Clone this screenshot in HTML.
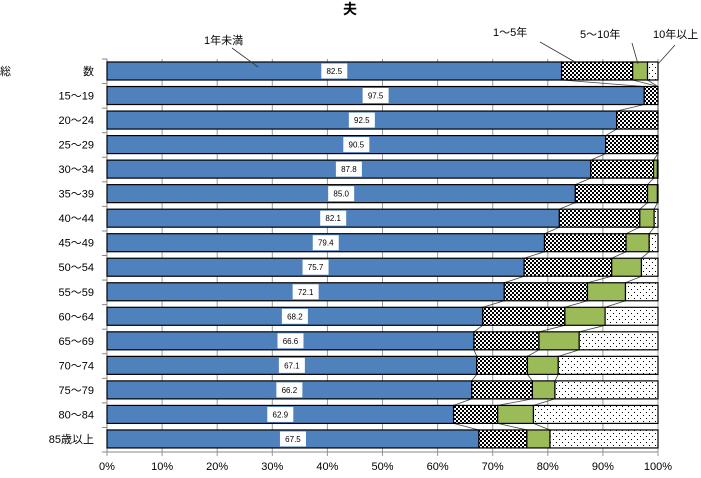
<!DOCTYPE html>
<html><head><meta charset="utf-8"><style>
html,body{margin:0;padding:0;background:#fff;}
svg{display:block;font-family:"Liberation Sans","Noto Sans CJK JP",sans-serif;}
</style></head><body>
<svg id="c" width="701" height="478" xmlns="http://www.w3.org/2000/svg">
<defs>
<pattern id="chk" width="4" height="4" patternUnits="userSpaceOnUse"><rect width="4" height="4" fill="#fff"/><rect width="2" height="2" fill="#000"/><rect x="2" y="2" width="2" height="2" fill="#000"/></pattern>
<pattern id="dot" width="6" height="6" patternUnits="userSpaceOnUse"><rect width="6" height="6" fill="#fff"/><rect x="1" y="1" width="1" height="1" fill="#000"/><rect x="4" y="4" width="1" height="1" fill="#000"/></pattern>
</defs>
<text x="350" y="14" font-size="14" font-weight="bold" text-anchor="middle">夫</text>
<g id="grid"></g>
<g id="bars"></g>
<g id="labels"></g>
<g font-size="11" fill="#000">
<text x="204" y="44">1年未満</text>
<line x1="232" y1="48" x2="258" y2="67" stroke="#333" stroke-width="0.8"/>
<text x="493" y="36">1～5年</text>
<line x1="540" y1="42" x2="575" y2="62" stroke="#333" stroke-width="0.8"/>
<text x="580" y="38">5～10年</text>
<line x1="632" y1="43" x2="638" y2="64" stroke="#333" stroke-width="0.8"/>
<text x="653" y="38">10年以上</text>
<line x1="675" y1="45" x2="658" y2="64" stroke="#333" stroke-width="0.8"/>
</g>
</svg>
<script>
const categories=["総数","15～19","20～24","25～29","30～34","35～39","40～44","45～49","50～54","55～59","60～64","65～69","70～74","75～79","80～84","85歳以上"];
const under1=[82.5,97.5,92.5,90.5,87.8,85.0,82.1,79.4,75.7,72.1,68.2,66.6,67.1,66.2,62.9,67.5];
const y1to5=[12.9,2.5,7.5,9.5,11.4,13.1,14.6,14.8,15.9,15.1,14.9,11.8,9.2,11.0,8.0,8.7];
const y5to10=[2.7,0,0,0,0.7,1.8,2.6,4.2,5.4,6.9,7.3,7.3,5.6,4.1,6.5,4.2];
const y10plus=[1.9,0,0,0,0.1,0.1,0.7,1.6,3.0,5.9,9.6,14.3,18.1,18.7,22.6,19.6];
const ticks=["0%","10%","20%","30%","40%","50%","60%","70%","80%","90%","100%"];
const NS="http://www.w3.org/2000/svg";
const X0=107,X1=658,T=59,B=452;
const sx=v=>X0+(X1-X0)*v/100;
const rowC=i=>71+i*24.53;
const BH=18;
function mk(tag,attrs,parent){const e=document.createElementNS(NS,tag);for(const k in attrs)e.setAttribute(k,attrs[k]);parent.appendChild(e);return e;}
const grid=document.getElementById('grid'),bars=document.getElementById('bars'),labels=document.getElementById('labels');
ticks.forEach((t,i)=>{const x=sx(i*10);
 const g=mk('line',{x1:x,x2:x,y1:T,y2:B+4,stroke:'#999','stroke-width':1},grid);
 
 
 const tx=mk('text',{x:x,y:470,'font-size':11,'text-anchor':'middle'},grid);tx.textContent=t;
 
 
});
mk('line',{x1:X0,x2:X0,y1:T,y2:B,stroke:'#888','stroke-width':1},grid);
mk('line',{x1:X0,x2:X1,y1:B,y2:B,stroke:'#888','stroke-width':1},grid);
for(let i=0;i<=categories.length;i++){const y=T+i*(B-T)/categories.length;mk('line',{x1:X0-5,x2:X0,y1:y,y2:y,stroke:'#888'},grid);}
const series=[[under1,'#4f81bd','segment-under-1-year'],[y1to5,'url(#chk)','segment-1-5-years'],[y5to10,'#9bbb59','segment-5-10-years'],[y10plus,'url(#dot)','segment-10-plus-years']];
const bounds=categories.map((c,i)=>{let acc=0;const b=[];series.forEach(s=>{acc+=s[0][i];b.push(acc);});return b;});
// series lines
for(let i=0;i<categories.length-1;i++){for(let k=0;k<3;k++){
 const l=mk('line',{x1:sx(bounds[i][k]),y1:rowC(i)+BH/2,x2:sx(bounds[i+1][k]),y2:rowC(i+1)-BH/2,stroke:'#444','stroke-width':0.8},bars);
 
 
}}
categories.forEach((c,i)=>{
 let acc=0;const yc=rowC(i);
 series.forEach(s=>{const v=s[0][i];if(v>0){
  const r=mk('rect',{x:sx(acc),y:yc-BH/2,width:sx(acc+v)-sx(acc),height:BH,fill:s[1],stroke:'#000','stroke-width':1.2},bars);
  
  
 }acc+=v;});
 const cx=(sx(0)+sx(under1[i]))/2;
 const bx=mk('rect',{x:cx-13,y:yc-7.5,width:26,height:15,fill:'#fff'},labels);
 
 
 const vt=mk('text',{x:cx,y:yc+3,'font-size':8,'text-anchor':'middle'},labels);vt.textContent=under1[i].toFixed(1);
 
 
 if(i===0){
  const a=mk('text',{x:0,y:yc+4,'font-size':11},labels);a.textContent='総';
  
  
  const b=mk('text',{x:94,y:yc+4,'font-size':11,'text-anchor':'end'},labels);b.textContent='数';
  
  
 }else{
  const t=mk('text',{x:94,y:yc+4,'font-size':11,'text-anchor':'end'},labels);t.textContent=c;
  
  
 }
});
</script>
</body></html>
